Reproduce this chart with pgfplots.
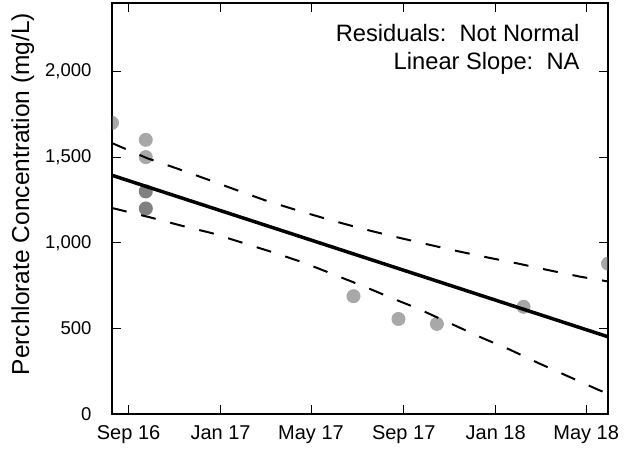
\documentclass[border=0pt]{standalone}
\usepackage{fontspec}
\setmainfont{Liberation Sans}
\usepackage{pgfplots}
\pgfplotsset{compat=1.18}
\begin{document}
\begin{tikzpicture}
\begin{axis}[name=ax, scale only axis, width=496pt, height=411pt,
 xmin=-22, xmax=636, ymin=0, ymax=2400,
 xtick={0,122,242,365,487,607},
 xticklabels={Sep 16,Jan 17,May 17,Sep 17,Jan 18,May 18},
 ytick={0,500,1000,1500,2000},
 yticklabels={0,500,{1,000},{1,500},{2,000}},
 xtick pos=both, ytick pos=both,
 xticklabel pos=bottom, yticklabel pos=left,
 tick align=inside, major tick length=9pt,
 tick style={line width=0.8pt, black},
 axis line style={line width=2.2pt},
 xticklabel style={font=\fontsize{20}{22}\selectfont, yshift=-8pt},
 yticklabel style={font=\fontsize{18.5}{20}\selectfont, xshift=-17pt},
 ylabel={Perchlorate Concentration (mg/L)},
 ylabel style={font=\fontsize{24.5}{28}\selectfont, at={(axis description cs:-0.167,0.535)}, anchor=base},
 clip marker paths=true,
]
\addplot[only marks, mark=*, mark size=7pt,
  mark options={draw opacity=0, fill=black!63, fill opacity=0.54}] coordinates {
(-22,1700)(22.8,1601)(22.8,1500)(22.8,1300)(22.8,1300)(22.8,1200)(22.8,1200)
(298.4,688)(358,555)(409,526)(524,626)(636,878)};
\addplot[black, line width=3.5pt] coordinates {(-22,1394)(636,451)};
\addplot[black, line width=2pt, dash pattern=on 15pt off 15pt] coordinates {
(-22,1582)(24.4,1494)(65.9,1431)(105.7,1368)(145.5,1304)(183,1245)(225.5,1187)
(266.6,1134)(307.3,1085)(348.4,1040)(382.5,1005)(431,956)(473,917)(515,880)
(557,840)(599,802)(636,774)};
\addplot[black, line width=2pt, dash pattern=on 15pt off 15pt] coordinates {
(-22,1203)(28.8,1148)(70.8,1099)(110.6,1056)(192.3,943)(232.1,884)(271.9,815)
(311.7,746)(350.7,674)(382.5,618)(428.9,525)(468.7,445)(506.2,375)(543.8,297)
(583.6,219)(623.3,141)(636,118)};
\node[anchor=base east, font=\fontsize{23.7}{26}\selectfont] at (axis description cs:0.9496,0.906) {Residuals:\ \ Not Normal};
\node[anchor=base east, font=\fontsize{23.7}{26}\selectfont] at (axis description cs:0.9496,0.8387) {Linear Slope:\ \ NA};
\end{axis}
\pgfresetboundingbox
\path[use as bounding box] ([xshift=-112pt,yshift=-36pt]ax.south west) rectangle ([xshift=26pt,yshift=3pt]ax.north east);
\end{tikzpicture}
\end{document}
